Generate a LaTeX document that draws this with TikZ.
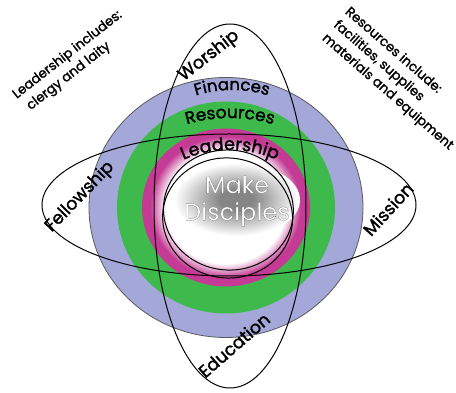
\documentclass[tikz,border=0pt]{standalone}
\usepackage{fontspec}
\setmainfont{Poppins}[FakeBold=1.6]
\newfontfamily\mdfont{Poppins}[FakeBold=0.6]
\usetikzlibrary{decorations.text}
\definecolor{ringblue}{RGB}{163,168,216}
\definecolor{ringgreen}{RGB}{62,186,76}
\definecolor{ringmag}{RGB}{196,58,148}
\tikzset{
  oval/.style={draw=black, line width=1pt},
  lbl/.style={font=\fontsize{17.5}{17.5}\selectfont, inner sep=0pt},
  note/.style={font=\fontsize{13.2}{17.5}\selectfont, align=left, inner sep=0pt},
  md/.style={font=\mdfont\fontsize{24}{27}\selectfont, align=center, inner sep=0pt},
  arctext/.style={decorate, decoration={text along path, text align=center, text={#1}}},
}
\begin{document}
\begin{tikzpicture}[x=1pt,y=1pt]
\useasboundingbox (0,0) rectangle (456,393);
\coordinate (c) at (226,185.5);
% rings
\fill[ringblue, draw=black!65, line width=0.8pt] (c) ellipse [x radius=137, y radius=130];
\fill[ringgreen] (c) ellipse [x radius=109, y radius=106];
\fill[ringmag] (c) ellipse [x radius=84, y radius=79];
\foreach \i in {0,...,20}{
  \pgfmathsetmacro\f{0.90-0.009*\i}
  \pgfmathtruncatemacro\p{100-5*\i}
  \fill[ringmag!\p!white] (c) ellipse [x radius=84*\f, y radius=79*\f];
}
% glow
\coordinate (g) at (237,193);
\foreach \i in {0,...,24}{
  \pgfmathtruncatemacro\q{round(2*\i)}
  \fill[black!\q!white] (g) ellipse [x radius={63-1.9*\i}, y radius={37-1.1*\i}];
}
% inner circles
\begin{scope}[rotate around={-5.7:(228,179)}]
\draw[oval] (228,183) ellipse [x radius=65, y radius=60];
\draw[oval] (228,175) ellipse [x radius=65, y radius=60];
\end{scope}
% big ellipses
\draw[oval] (230,187) ellipse [x radius=76, y radius=182];
\draw[oval] (229,188) ellipse [x radius=187, y radius=71];
% ring texts
\path[arctext={|\fontsize{16.5}{16.5}\selectfont|Finances}] (232,183) ++(124:120) arc[start angle=124, end angle=56, radius=120];
\path[arctext={|\fontsize{17}{17}\selectfont|Resources}] (230,125) ++(120:150) arc[start angle=120, end angle=60, radius=150];
\path[arctext={|\fontsize{17.5}{17.5}\selectfont|Leadership}] (230,128) ++(128:115) arc[start angle=128, end angle=52, radius=115];
% centre text: white fill with grey outline
\node[md, text=white] (md) at (237,192) {\special{pdf:literal direct 2 Tr 1.0 w 0.35 G}Make\\Disciples\special{pdf:literal direct 0 Tr 0 G}};
% ellipse labels
\node[lbl, rotate=38] (worship) at (209,337) {Worship};
\node[lbl, rotate=41] (education) at (234,48) {Education};
\node[lbl, rotate=46] (fellowship) at (80,196) {Fellowship};
\node[lbl, rotate=47.5] (mission) at (388,184) {Mission};
% notes
\node[note, rotate=38] (leadnote) at (73,331) {Leadership includes:\\\hspace*{4pt}clergy and laity};
\node[note, rotate=-41] (resnote) at (399,314) {Resources include:\\facilities, supplies\\materials and equipment};
\end{tikzpicture}
\end{document}
